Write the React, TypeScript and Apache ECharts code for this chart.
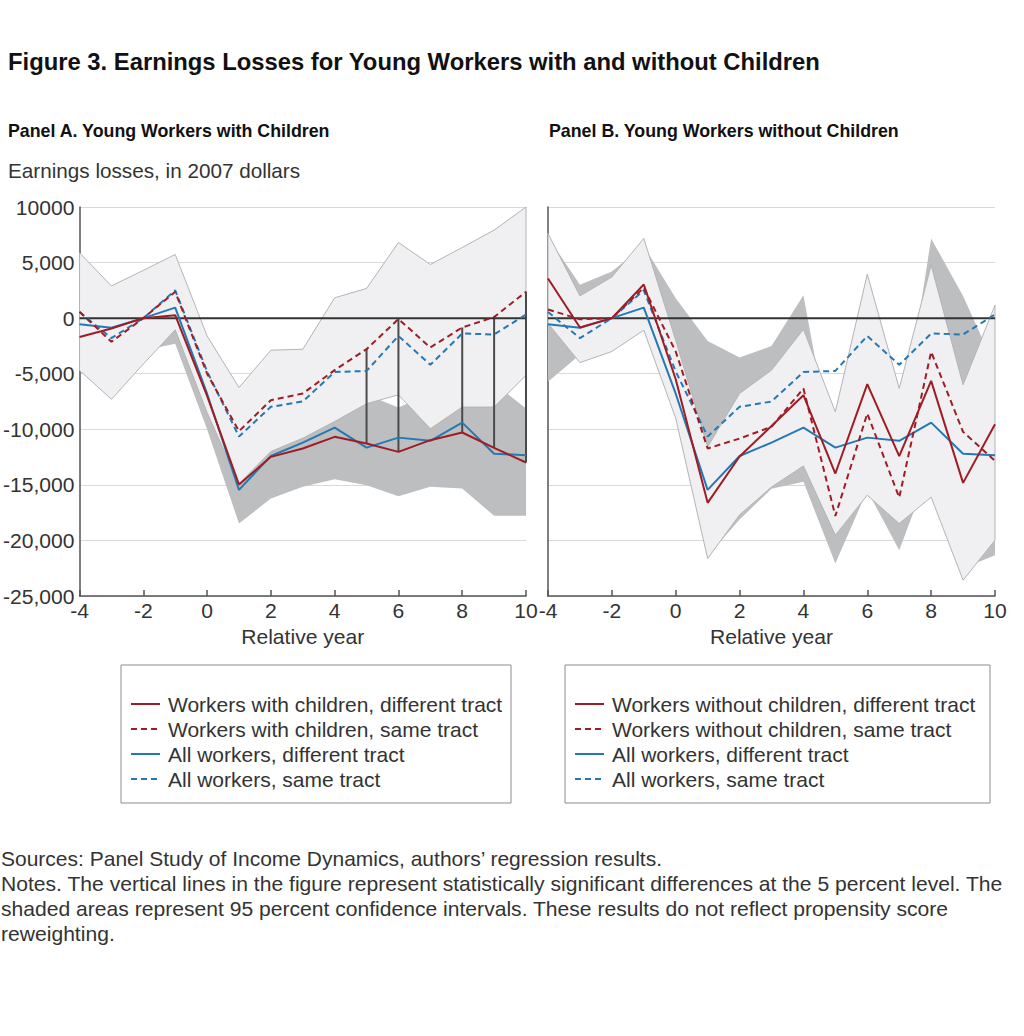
import React, { useEffect, useRef } from "react";
import * as echarts from "echarts";

const FONT = '"Liberation Sans", Arial, Helvetica, sans-serif';

const years = [-4, -3, -2, -1, 0, 1, 2, 3, 4, 5, 6, 7, 8, 9, 10];
const xTicks = { min: -4, max: 10, step: 2 };
const yTicks = { min: -25000, max: 10000, step: 5000 };

// Panel A: young workers with children
const withDiff = [-1700, -930, 0, 270, -7000, -14970, -12480, -11730, -10680, -11280, -12030, -10980, -10290, -11670, -12990];
const withSame = [570, -2130, 0, 2370, -5000, -10170, -7380, -6780, -4680, -2790, -80, -2640, -840, 100, 2370];
// All workers (same in both panels)
const allDiff = [-550, -870, 0, 950, -6800, -15450, -12400, -11200, -9850, -11650, -10750, -11040, -9400, -12200, -12330];
const allSame = [550, -1800, 0, 2500, -4800, -10650, -7980, -7500, -4850, -4750, -1600, -4200, -1380, -1470, 330];
// Panel A confidence intervals
const aLightUp = [5880, 2900, 4300, 5730, -1600, -6240, -2880, -2800, 1830, 2670, 6810, 4830, 6360, 7920, 10000];
const aLightLo = [-4700, -7300, -4130, -1050, -8500, -14900, -12000, -10800, -9300, -7700, -6900, -9950, -8000, -8000, -5150];
const aDarkUp = [600, 2600, 2910, 2670, -3500, -11460, -8730, -8280, -6870, -6900, -8040, -6780, -5250, -5850, -8130];
const aDarkLo = [-4000, -4500, -2910, -2300, -10000, -18480, -16230, -15180, -14490, -15030, -16020, -15180, -15330, -17790, -17790];
const sigYears = [5, 6, 8, 9, 10];

// Panel B: young workers without children
const withoutDiff = [3570, -840, 0, 3030, -5500, -16620, -12450, -9700, -6930, -13980, -5940, -12420, -5640, -14820, -9540];
const withoutSame = [780, -100, 0, 2730, -3000, -11730, -10830, -9780, -6330, -17800, -8580, -16140, -3030, -10230, -12850];
const bLightUp = [7620, 2000, 3700, 7170, -2000, -11580, -6780, -4680, -1000, -8430, 3960, -6330, 4770, -6000, 1170];
const bLightLo = [-480, -4000, -3000, -1080, -9000, -21630, -17700, -15200, -13300, -19530, -15930, -18480, -16100, -23580, -19980];
const bDarkUp = [7290, 3000, 4200, 6500, 1800, -2050, -3550, -2500, 2070, -13520, -1660, -11400, 7170, 2000, -4370];
const bDarkLo = [-5730, -3300, -2500, -1000, -7800, -21410, -18110, -15360, -14730, -22080, -15500, -20880, -13230, -22500, -21330];

const legendA = [
  "Workers with children, different tract",
  "Workers with children, same tract",
  "All workers, different tract",
  "All workers, same tract",
];
const legendB = [
  "Workers without children, different tract",
  "Workers without children, same tract",
  "All workers, different tract",
  "All workers, same tract",
];

const RED = "#a01c24";
const BLUE = "#2479b4";
const LIGHT = "#f0f0f2";
const LIGHT_EDGE = "#b4b4b6";
const DARK = "#bdbec0";
const DASH = [6, 4];
const TEXT = "#333333";
const FS = 21.1;
const LFS = 21.0;

function band(ai: number, lo: number[], up: number[], fill: string, stroke: string | null, z: number) {
  return {
    type: "custom",
    xAxisIndex: ai,
    yAxisIndex: ai,
    z,
    silent: true,
    data: years.map((x, i) => [x, lo[i], up[i]]),
    encode: { x: 0, y: [1, 2] },
    renderItem: (params: any, api: any) => {
      if (params.dataIndex !== 0) return null;
      const top = years.map((x, i) => api.coord([x, up[i]]));
      const bot = years.map((x, i) => api.coord([x, lo[i]]));
      const pts = top.concat(bot.slice().reverse());
      return {
        type: "polygon",
        shape: { points: pts },
        style: { fill, stroke: stroke || "none", lineWidth: stroke ? 1 : 0 },
      };
    },
  };
}

function line(ai: number, name: string, vals: number[], color: string, dashed: boolean, z: number) {
  return {
    type: "line",
    name,
    xAxisIndex: ai,
    yAxisIndex: ai,
    z,
    silent: true,
    showSymbol: false,
    symbol: "none",
    data: years.map((x, i) => [x, vals[i]]),
    lineStyle: { color, width: 2, type: dashed ? DASH : "solid" },
  };
}

function zero(ai: number) {
  return {
    type: "line",
    xAxisIndex: ai,
    yAxisIndex: ai,
    z: 3,
    silent: true,
    showSymbol: false,
    symbol: "none",
    data: years.map((x) => [x, 0]),
    lineStyle: { color: "#333333", width: 2 },
  };
}

function sigLines() {
  return {
    type: "custom",
    xAxisIndex: 0,
    yAxisIndex: 0,
    z: 3,
    silent: true,
    data: sigYears.map((yr) => {
      const i = years.indexOf(yr);
      return [yr, withDiff[i], withSame[i]];
    }),
    encode: { x: 0, y: [1, 2] },
    renderItem: (params: any, api: any) => {
      const a = api.coord([api.value(0), api.value(1)]);
      const b = api.coord([api.value(0), api.value(2)]);
      return {
        type: "line",
        shape: { x1: a[0], y1: a[1], x2: b[0], y2: b[1] },
        style: { stroke: "#4a4a4a", lineWidth: 2 },
      };
    },
  };
}

function xAxis(gi: number) {
  return {
    gridIndex: gi,
    type: "value",
    min: xTicks.min,
    max: xTicks.max,
    interval: xTicks.step,
    axisLine: { show: true, onZero: false, lineStyle: { color: "#555555", width: 1.5 } },
    axisTick: { show: true, inside: true, length: 6, lineStyle: { color: "#555555", width: 1.5 } },
    axisLabel: { fontSize: FS, color: TEXT, margin: 4, fontFamily: FONT },
    splitLine: { show: false },
    name: "Relative year",
    nameLocation: "middle",
    nameGap: 30,
    nameTextStyle: { fontSize: FS, color: TEXT, fontFamily: FONT },
  };
}

function yAxis(gi: number, labels: boolean) {
  return {
    gridIndex: gi,
    type: "value",
    min: yTicks.min,
    max: yTicks.max,
    interval: yTicks.step,
    axisLine: { show: true, onZero: false, lineStyle: { color: "#555555", width: 1.5 } },
    axisTick: { show: false },
    axisLabel: {
      show: labels,
      fontSize: FS,
      color: TEXT,
      margin: 5,
      fontFamily: FONT,
      formatter: (v: number) => (v >= 10000 ? String(v) : v.toLocaleString("en-US")),
    },
    splitLine: { show: true, lineStyle: { color: "#d9d9d9", width: 1 } },
  };
}

function legendBox(x: number, w: number, names: string[]) {
  const styles = [
    { color: RED, dash: false },
    { color: RED, dash: true },
    { color: BLUE, dash: false },
    { color: BLUE, dash: true },
  ];
  const els: any[] = [
    { type: "rect", shape: { x, y: 665, width: w, height: 138 }, style: { fill: "#ffffff", stroke: "#8c8c8c", lineWidth: 1 } },
  ];
  names.forEach((n, i) => {
    const y = 704 + i * 25;
    els.push({
      type: "line",
      shape: { x1: x + 10, y1: y, x2: x + 39, y2: y },
      style: { stroke: styles[i].color, lineWidth: 2, lineDash: styles[i].dash ? DASH : null },
    });
    els.push({
      type: "text",
      x: x + 47,
      y,
      style: { text: n, fill: TEXT, font: `${LFS}px ${FONT}`, textVerticalAlign: "middle", verticalAlign: "middle" },
    });
  });
  return els;
}

function txt(text: string, x: number, y: number, font: string, fill = TEXT) {
  return { type: "text", x, y, style: { text, fill, font, textVerticalAlign: "middle", verticalAlign: "middle" } };
}

export default function App() {
  const ref = useRef<HTMLDivElement>(null);
  useEffect(() => {
    if (!ref.current) return;
    const chart = echarts.init(ref.current, null, { renderer: "svg" });
    const option: any = {
      animation: false,
      backgroundColor: "#ffffff",
      textStyle: { fontFamily: FONT },
      grid: [
        { left: 79, top: 207, width: 447, height: 389 },
        { left: 548, top: 207, width: 447, height: 389 },
      ],
      xAxis: [xAxis(0), xAxis(1)],
      yAxis: [yAxis(0, true), yAxis(1, false)],
      series: [
        band(0, aDarkLo, aDarkUp, DARK, null, 1),
        band(0, aLightLo, aLightUp, LIGHT, LIGHT_EDGE, 2),
        zero(0),
        sigLines(),
        line(0, legendA[3], allSame, BLUE, true, 4),
        line(0, legendA[2], allDiff, BLUE, false, 4),
        line(0, legendA[1], withSame, RED, true, 4),
        line(0, legendA[0], withDiff, RED, false, 4),
        band(1, bDarkLo, bDarkUp, DARK, null, 1),
        band(1, bLightLo, bLightUp, LIGHT, LIGHT_EDGE, 2),
        zero(1),
        line(1, legendB[3], allSame, BLUE, true, 4),
        line(1, legendB[2], allDiff, BLUE, false, 4),
        line(1, legendB[1], withoutSame, RED, true, 4),
        line(1, legendB[0], withoutDiff, RED, false, 4),
      ],
      graphic: [
        txt("Figure 3. Earnings Losses for Young Workers with and without Children", 8, 61, `bold 23.8px ${FONT}`, "#111111"),
        txt("Panel A. Young Workers with Children", 8, 131, `bold 17.8px ${FONT}`, "#111111"),
        txt("Panel B. Young Workers without Children", 549, 131, `bold 17.8px ${FONT}`, "#111111"),
        txt("Earnings losses, in 2007 dollars", 8, 170, `20.7px ${FONT}`),
        ...legendBox(121, 390, legendA),
        ...legendBox(565, 425, legendB),
        txt("Sources: Panel Study of Income Dynamics, authors\u2019 regression results.", 1, 858, `${LFS}px ${FONT}`),
        txt("Notes. The vertical lines in the figure represent statistically significant differences at the 5 percent level. The", 1, 883, `${FS}px ${FONT}`),
        txt("shaded areas represent 95 percent confidence intervals. These results do not reflect propensity score", 1, 908, `${FS}px ${FONT}`),
        txt("reweighting.", 1, 933, `${FS}px ${FONT}`),
      ],
    };
    chart.setOption(option);
    return () => chart.dispose();
  }, []);
  return <div ref={ref} style={{ position: "absolute", left: 0, top: 0, width: 1024, height: 1036 }} />;
}
